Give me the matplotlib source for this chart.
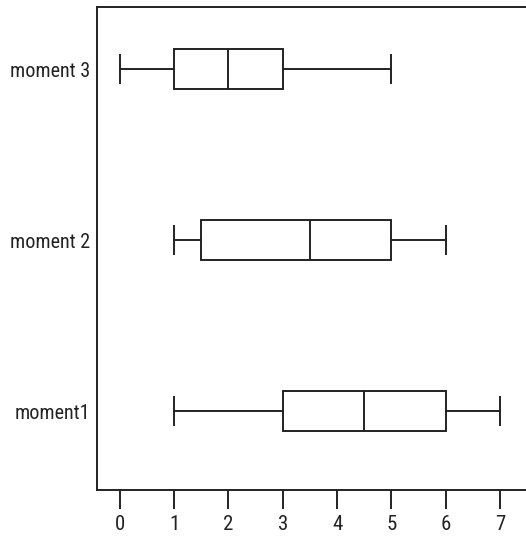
import matplotlib
matplotlib.use("Agg")
import matplotlib.pyplot as plt
from matplotlib import font_manager

# Five-number summaries per group
groups = ["moment1", "moment 2", "moment 3"]
whisker_low = [1.0, 1.0, 0.0]
quartile1 = [3.0, 1.5, 1.0]
medians = [4.5, 3.5, 2.0]
quartile3 = [6.0, 5.0, 3.0]
whisker_high = [7.0, 6.0, 5.0]
x_ticks = [0, 1, 2, 3, 4, 5, 6, 7]

names = {f.name for f in font_manager.fontManager.ttflist}
condensed = [n for n in ["Roboto Condensed", "Open Sans Condensed", "Liberation Sans Narrow",
                         "DejaVu Sans Condensed"] if n in names]
if condensed:
    family = [condensed[0], "DejaVu Sans"]
    ysize, xsize = 14.5, 15
else:
    family = ["Liberation Sans", "DejaVu Sans"]
    ysize, xsize = 13, 14
plt.rcParams["font.family"] = family

fig = plt.figure(figsize=(5.26, 5.39), dpi=100)
W, H = 526, 539
left, right, top, bottom = 97, 530, 7, 490
ax = fig.add_axes([left / W, 1 - bottom / H, (right - left) / W, (bottom - top) / H])

stats = []
for i, g in enumerate(groups):
    stats.append(dict(label=g, whislo=whisker_low[i], q1=quartile1[i], med=medians[i],
                      q3=quartile3[i], whishi=whisker_high[i], fliers=[]))

line = dict(color="#222222", linewidth=1.4)
ax.bxp(stats, positions=[1, 2, 3], vert=False, widths=0.23, capwidths=0.16,
       patch_artist=True, showfliers=False,
       boxprops=dict(facecolor="white", edgecolor="#222222", linewidth=1.4),
       medianprops=line, whiskerprops=line, capprops=line)

ax.set_xlim(-0.42, 7.55)
ax.set_ylim(0.538, 3.363)
ax.set_xticks(x_ticks)
ax.set_xticklabels([str(t) for t in x_ticks])
ax.tick_params(axis="x", direction="out", length=14, width=1.4, color="#222222",
               labelsize=xsize, pad=4, labelcolor="#222222")
ax.tick_params(axis="y", length=0, labelsize=ysize, pad=5, labelcolor="#222222")
for s in ["left", "bottom", "top"]:
    ax.spines[s].set_linewidth(1.4)
    ax.spines[s].set_color("#222222")
ax.spines["right"].set_visible(False)

fig.savefig("out.png", dpi=100)
